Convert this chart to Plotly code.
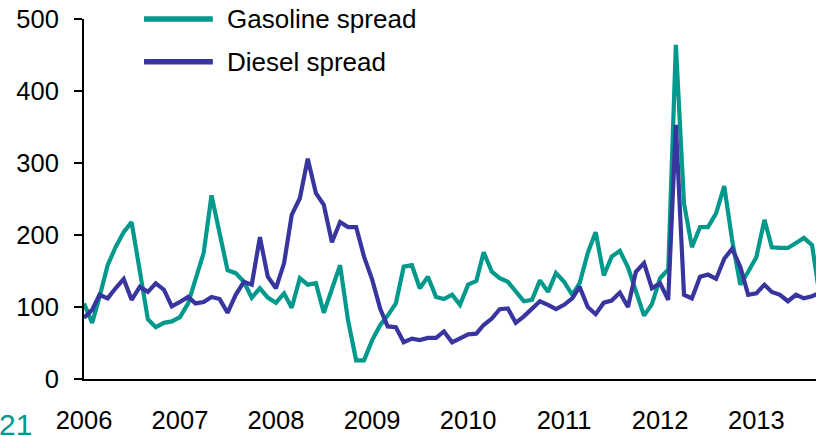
import pandas as pd
import plotly.graph_objects as go

# Monthly observations, January 2006 onward
months = pd.date_range("2006-01-01", periods=93, freq="MS")

series_names = ["Gasoline spread", "Diesel spread"]

gasoline = [
    105, 78, 114, 158, 183, 204, 218, 150, 83, 72, 78, 80,
    86, 105, 137, 175, 255, 203, 151, 147, 135, 113, 126, 113,
    106, 119, 99, 140, 131, 133, 92, 125, 158, 82, 26, 26,
    54, 75, 88, 105, 156, 158, 126, 142, 114, 111, 117, 103,
    131, 136, 176, 149, 140, 135, 122, 108, 110, 137, 121, 147,
    135, 117, 133, 175, 204, 144, 170, 178, 155, 122, 88, 104,
    140, 152, 464, 244, 183, 211, 211, 230, 268, 193, 131, 149,
    169, 221, 183, 182, 182, 189, 196, 186, 110,
]

diesel = [
    85, 96, 117, 112, 126, 139, 110, 128, 121, 133, 124, 101,
    107, 114, 105, 107, 114, 111, 92, 117, 135, 131, 197, 142,
    126, 161, 228, 251, 306, 258, 242, 190, 218, 211, 211, 170,
    138, 97, 73, 72, 51, 56, 54, 57, 57, 66, 51, 57,
    62, 63, 75, 84, 97, 98, 78, 87, 98, 108, 103, 97,
    103, 112, 128, 100, 90, 106, 109, 120, 100, 149, 161, 126,
    133, 110, 353, 117, 112, 142, 145, 139, 167, 181, 156, 117,
    119, 131, 121, 117, 108, 117, 112, 115, 120,
]

year_ticks = [f"{y}-01-01" for y in range(2006, 2014)]
year_labels = [str(y) for y in range(2006, 2014)]
y_ticks = [0, 100, 200, 300, 400, 500]

colors = ["#00998b", "#39359f"]
font_family = "Liberation Sans, Arial, sans-serif"
text_size = 25.5

fig = go.Figure()
for name, values, color in zip(series_names, [gasoline, diesel], colors):
    fig.add_trace(go.Scatter(
        x=months, y=values, name=name, mode="lines",
        line=dict(color=color, width=4.2, shape="linear"),
        showlegend=False,
    ))

# Legend drawn as wide line swatches with labels beside them
legend_rows = [1.0, 0.881]
for name, color, yp in zip(series_names, colors, legend_rows):
    fig.add_shape(type="line", xref="paper", yref="paper",
                  x0=0.082, x1=0.176, y0=yp, y1=yp,
                  line=dict(color=color, width=5.5))
    fig.add_annotation(xref="paper", yref="paper", x=0.1926, y=yp,
                       text=name, showarrow=False, xanchor="left",
                       yanchor="middle",
                       font=dict(family=font_family, size=text_size + 0.5,
                                 color="#000000"))

# Page number in the lower-left corner
fig.add_annotation(xref="paper", yref="paper", x=-0.068, y=-0.125,
                   text="21", showarrow=False, xanchor="right",
                   yanchor="middle",
                   font=dict(family=font_family, size=30, color="#00998b"))

fig.update_layout(
    width=816, height=435,
    margin=dict(l=84, r=0, t=19, b=56),
    paper_bgcolor="white", plot_bgcolor="white",
    font=dict(family=font_family, size=text_size, color="#000000"),
)

fig.update_xaxes(
    type="date",
    range=["2006-01-01", "2013-08-16"],
    tickvals=year_ticks, ticktext=year_labels,
    showgrid=False, zeroline=False,
    showline=True, linecolor="#000000", linewidth=2,
    ticks="", ticklabelstandoff=17, automargin=False,
    tickfont=dict(size=text_size),
)

fig.update_yaxes(
    range=[0, 500],
    tickvals=y_ticks,
    showgrid=False, zeroline=False,
    showline=True, linecolor="#000000", linewidth=2,
    ticks="outside", ticklen=8, tickwidth=2, tickcolor="#000000",
    ticklabelstandoff=10, automargin=False,
    tickfont=dict(size=text_size),
)

fig.write_html("out.html")
